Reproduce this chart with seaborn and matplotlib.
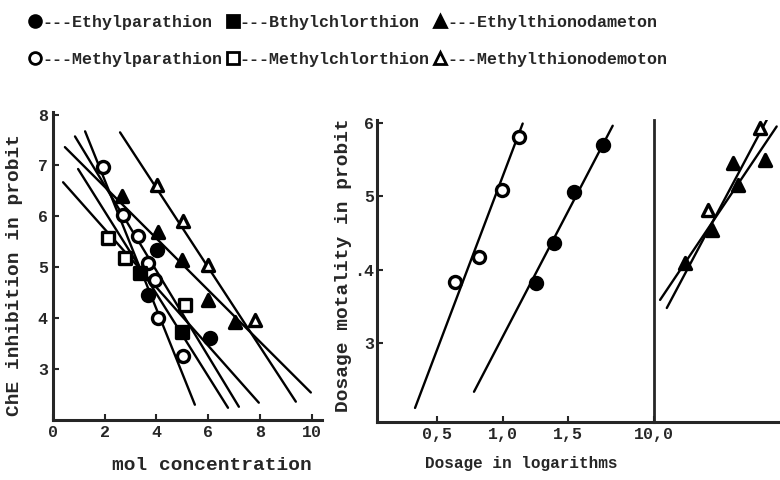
import matplotlib
matplotlib.use("Agg")
import matplotlib.pyplot as plt
from matplotlib.lines import Line2D
import seaborn as sns

# ---- left panel: ChE inhibition (probit) vs mol concentration ----
conc_mpar = [1.96, 2.73, 3.28, 3.67, 3.95, 4.08, 5.05]
inh_mpar = [6.97, 6.03, 5.61, 5.08, 4.75, 4.00, 3.25]
conc_epar = [4.04, 3.69, 6.07]
inh_epar = [5.34, 4.46, 3.61]
conc_echl = [3.37, 4.98]
inh_echl = [4.88, 3.73]
conc_mchl = [2.15, 2.79, 5.11]
inh_mchl = [5.58, 5.18, 4.26]
conc_ethd = [2.66, 4.08, 4.98, 6.01, 7.04]
inh_ethd = [6.39, 5.69, 5.14, 4.36, 3.93]
conc_mthd = [4.02, 5.02, 6.01, 7.81]
inh_mthd = [6.61, 5.90, 5.05, 3.97]

# regression lines (start, end)
fit_conc_mpar, fit_inh_mpar = [1.25, 5.49], [7.67, 2.30]
fit_conc_epar, fit_inh_epar = [0.86, 7.19], [7.57, 2.26]
fit_conc_echl, fit_inh_echl = [0.98, 6.77], [6.93, 2.24]
fit_conc_mchl, fit_inh_mchl = [0.40, 7.96], [6.67, 2.34]
fit_conc_ethd, fit_inh_ethd = [0.47, 9.97], [7.36, 2.54]
fit_conc_mthd, fit_inh_mthd = [2.60, 9.39], [7.65, 2.36]

# ---- middle panel: mortality (probit) vs log dosage ----
logd_mpar = [0.639, 0.821, 0.999, 1.128]
mort_mpar = [3.84, 4.18, 5.09, 5.80]
logd_epar = [1.255, 1.391, 1.543, 1.766]
mort_epar = [3.82, 4.36, 5.06, 5.70]
fit_logd_mpar, fit_mort_mpar = [0.335, 1.153], [2.12, 5.99]
fit_logd_epar, fit_mort_epar = [0.783, 1.837], [2.34, 5.96]

# ---- right panel (after axis break at 10,0) ----
logd_ethd = [10.236, 10.438, 10.603, 10.641, 10.843]
mort_ethd = [4.09, 4.54, 5.45, 5.15, 5.49]
logd_mthd = [10.413, 10.805]
mort_mthd = [4.81, 5.93]
fit_logd_ethd, fit_mort_ethd = [10.046, 10.932], [3.59, 5.95]
fit_logd_mthd, fit_mort_mthd = [10.097, 10.857], [3.48, 6.04]

legend_names = ["Ethylparathion", "Methylparathion", "Bthylchlorthion",
                "Methylchlorthion", "Ethylthionodameton", "Methylthionodemoton"]

sns.set_style("ticks")
plt.rcParams['font.family'] = ['Liberation Mono', 'DejaVu Sans']
plt.rcParams['font.weight'] = 'bold'
plt.rcParams['axes.labelweight'] = 'bold'

fig = plt.figure(figsize=(7.8, 4.8), dpi=100)
ax1 = fig.add_axes([0.0676, 0.125, 0.3452, 0.6417])
ax2 = fig.add_axes([0.483, 0.1215, 0.3555, 0.6285])
ax3 = fig.add_axes([0.8385, 0.1215, 0.3155, 0.6285])


def fit(ax, x, y):
    sns.lineplot(x=x, y=y, ax=ax, color='black', linewidth=1.7,
                 sort=False, estimator=None, zorder=2)


def pts(ax, x, y, marker, filled):
    sns.scatterplot(x=x, y=y, ax=ax, marker=marker, s=75,
                    color='black' if filled else 'white',
                    edgecolor='black', linewidth=2.4, zorder=3)


fit(ax1, fit_conc_mpar, fit_inh_mpar)
fit(ax1, fit_conc_epar, fit_inh_epar)
fit(ax1, fit_conc_echl, fit_inh_echl)
fit(ax1, fit_conc_mchl, fit_inh_mchl)
fit(ax1, fit_conc_ethd, fit_inh_ethd)
fit(ax1, fit_conc_mthd, fit_inh_mthd)
pts(ax1, conc_mpar, inh_mpar, 'o', False)
pts(ax1, conc_epar, inh_epar, 'o', True)
pts(ax1, conc_echl, inh_echl, 's', True)
pts(ax1, conc_mchl, inh_mchl, 's', False)
pts(ax1, conc_ethd, inh_ethd, '^', True)
pts(ax1, conc_mthd, inh_mthd, '^', False)

fit(ax2, fit_logd_mpar, fit_mort_mpar)
fit(ax2, fit_logd_epar, fit_mort_epar)
pts(ax2, logd_mpar, mort_mpar, 'o', False)
pts(ax2, logd_epar, mort_epar, 'o', True)

fit(ax3, fit_logd_ethd, fit_mort_ethd)
fit(ax3, fit_logd_mthd, fit_mort_mthd)
pts(ax3, logd_ethd, mort_ethd, '^', True)
pts(ax3, logd_mthd, mort_mthd, '^', False)

ax1.set_xlim(0, 10.4)
ax1.set_ylim(2.0, 8.05)
ax1.set_xticks([0, 2, 4, 6, 8, 10])
ax1.set_yticks([3, 4, 5, 6, 7, 8])

ax2.set_xlim(0.044, 2.151)
ax2.set_ylim(1.933, 6.038)
ax2.set_xticks([0.5, 1.0, 1.5])
ax2.set_xticklabels(["0,5", "1,0", "1,5"])
ax2.set_yticks([3, 4, 5, 6])
ax2.set_yticklabels(["3", ".4", "5", "6"])

ax3.set_xlim(10.0, 11.87)
ax3.set_ylim(1.933, 6.038)
ax3.set_xticks([10.0])
ax3.set_xticklabels(["10,0"])
ax3.set_yticks([])

for ax in (ax1, ax2, ax3):
    for s in ('top', 'right'):
        ax.spines[s].set_visible(False)
    for s in ('left', 'bottom'):
        ax.spines[s].set_linewidth(2.2)
    ax.tick_params(direction='in', length=4, width=1.5, labelsize=12)
    ax.patch.set_alpha(0)
ax2.tick_params(axis='y', pad=2)
ax3.spines['left'].set_linewidth(2.0)

ax1.set_ylabel("ChE inhibition in probit", fontsize=14)
ax1.yaxis.set_label_coords(-0.112, 0.47)
ax1.set_xlabel("mol concentration", fontsize=14)
ax1.xaxis.set_label_coords(0.59, -0.12)

ax2.set_ylabel("Dosage motality in probit", fontsize=14)
ax2.yaxis.set_label_coords(-0.088, 0.52)
ax2.set_xlabel("Dosage in logarithms", fontsize=11.5)
ax2.xaxis.set_label_coords(0.52, -0.115)

mk = [('o', 'black'), ('o', 'white'), ('s', 'black'),
      ('s', 'white'), ('^', 'black'), ('^', 'white')]
handles = [Line2D([], [], marker=m, linestyle='none', markersize=8.5,
                  markerfacecolor=c, markeredgecolor='black',
                  markeredgewidth=2) for m, c in mk]
labels = ["---" + n for n in legend_names]
fig.legend(handles, labels, ncol=3, loc='upper left',
           bbox_to_anchor=(0.025, 0.99), frameon=False, fontsize=12,
           handlelength=0.7, handletextpad=0.05, columnspacing=0.3,
           labelspacing=1.35, borderaxespad=0.2)

fig.savefig("out.png", dpi=100)
